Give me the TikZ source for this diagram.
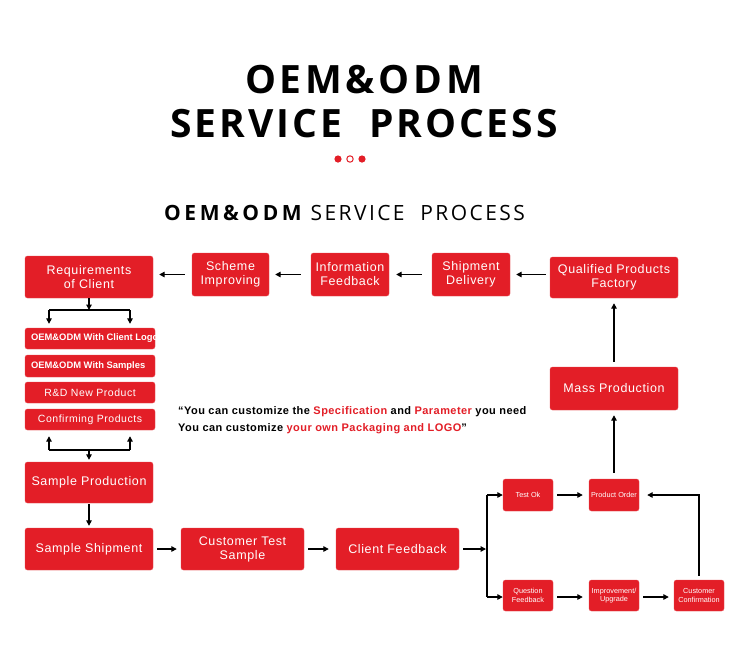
\documentclass[tikz,border=0pt]{standalone}
\usepackage{fontspec}
\setmainfont{Liberation Sans}
\newfontfamily\titlefont[LetterSpace=9.5]{Open Sans}
\newfontfamily\titlefontb[LetterSpace=7.5]{Open Sans}
\newfontfamily\subfontb[LetterSpace=17]{Open Sans}
\newfontfamily\subfont[LetterSpace=11.5]{Open Sans}
\newfontfamily\boxfont[LetterSpace=5]{Liberation Sans}
\newfontfamily\quotefont[LetterSpace=4]{Liberation Sans}
\usetikzlibrary{arrows.meta}
\definecolor{brandred}{RGB}{227,30,39}
\tikzset{
  box/.style={fill=brandred, draw=brandred!80!white, line width=0.4pt, rounded corners=2.5pt, text=white, align=center, inner sep=0pt},
  bigtext/.style={font=\boxfont\fontsize{12.5}{14}\selectfont},
  smalltext/.style={font=\fontsize{7.3}{8.5}\selectfont},
  listtext/.style={font=\boxfont\fontsize{10.5}{12}\selectfont},
  boldlist/.style={anchor=west, text=white, inner sep=0pt, font=\bfseries\fontsize{9.4}{11}\selectfont},
  conn/.style={draw=black, line width=1.3pt, -{Triangle[length=5.5pt,width=5.5pt]}},
  plain/.style={draw=black, line width=1.3pt},
}
\begin{document}
\begin{tikzpicture}[x=1pt,y=-1pt]
\useasboundingbox (0,0) rectangle (750,657);
\fill[white] (0,0) rectangle (750,657);
% titles
\node[anchor=base, inner sep=0pt, font=\titlefont\bfseries\fontsize{39}{44}\selectfont] (t1) at (364,93) {OEM\&ODM};
\node[anchor=base, inner sep=0pt, font=\titlefontb\bfseries\fontsize{39}{44}\selectfont] (t2) at (364,137) {SERVICE\hspace{27pt}PROCESS};
\fill[brandred] (338,159) circle (3.6);
\draw[brandred, line width=1pt] (350,159) circle (3.2);
\fill[brandred] (362,159) circle (3.6);
\node[anchor=base west, inner sep=0pt, font=\subfont\fontsize{21}{24}\selectfont] (sub) at (164,220) {{\subfontb\bfseries OEM\&ODM}\hspace{9pt}SERVICE\ \ PROCESS};
% top row
\node[box, bigtext, minimum width=128pt, minimum height=42pt] (req) at (89,277) {Requirements\\of Client};
\node[box, bigtext, minimum width=77pt, minimum height=43pt] (sch) at (230.5,274.5) {Scheme\\Improving};
\node[box, bigtext, minimum width=78pt, minimum height=43pt] (inf) at (350,274.5) {Information\\Feedback};
\node[box, bigtext, minimum width=78pt, minimum height=43pt] (shp) at (471,274.5) {Shipment\\Delivery};
\node[box, bigtext, minimum width=128pt, minimum height=41pt] (qual) at (614,277.5) {Qualified Products\\Factory};
\node[box, bigtext, minimum width=128pt, minimum height=43pt] (mass) at (614,388.5) {Mass Production};
% list boxes
\node[box, minimum width=130pt, minimum height=21pt] (l1) at (90,338.5) {};
\node[box, minimum width=130pt, minimum height=22pt] (l2) at (90,366) {};
\begin{scope}
\clip (l1.south west) rectangle (l1.north east);
\node[boldlist] (l1t) at ([xshift=6pt]l1.west) {OEM\&ODM With Client Logo};
\end{scope}
\begin{scope}
\clip (l2.south west) rectangle (l2.north east);
\node[boldlist] (l2t) at ([xshift=6pt]l2.west) {OEM\&ODM With Samples};
\end{scope}
\node[box, listtext, minimum width=130pt, minimum height=21pt] (l3) at (90,392.5) {R\&D New Product};
\node[box, listtext, minimum width=130pt, minimum height=21pt] (l4) at (90,419.5) {Confirming Products};
% left column
\node[box, bigtext, minimum width=128pt, minimum height=41pt] (sprod) at (89,482.5) {Sample Production};
\node[box, bigtext, minimum width=128pt, minimum height=42pt] (sship) at (89,549) {Sample Shipment};
\node[box, bigtext, minimum width=123pt, minimum height=42pt] (ctest) at (242.5,549) {Customer Test\\Sample};
\node[box, bigtext, minimum width=123pt, minimum height=42pt] (cfb) at (397.5,549) {Client Feedback};
% right small boxes
\node[box, smalltext, minimum width=50pt, minimum height=32pt] (tok) at (528,495) {Test Ok};
\node[box, smalltext, minimum width=50pt, minimum height=32pt] (pord) at (614,495) {Product Order};
\node[box, smalltext, minimum width=50pt, minimum height=31pt] (qfb) at (528,595.5) {Question\\Feedback};
\node[box, smalltext, minimum width=50pt, minimum height=31pt] (impr) at (614,595.5) {Improvement/\\Upgrade};
\node[box, smalltext, minimum width=50pt, minimum height=31pt] (cconf) at (699,595.5) {Customer\\Confirmation};
% quote
\node[anchor=base west, inner sep=0pt, font=\quotefont\bfseries\fontsize{11}{12}\selectfont] (q1) at (178,414) {“You can customize the \textcolor{brandred}{Specification} and \textcolor{brandred}{Parameter} you need};
\node[anchor=base west, inner sep=0pt, font=\quotefont\bfseries\fontsize{11}{12}\selectfont] (q2) at (178,431) {You can customize \textcolor{brandred}{your own Packaging and LOGO}”};
% connectors top row
\draw[conn, shorten <=7pt, shorten >=6pt] (sch.west) -- (req.east |- sch.west);
\draw[conn, shorten <=10pt, shorten >=6pt] (inf.west) -- (sch.east);
\draw[conn, shorten <=10pt, shorten >=7pt] (shp.west) -- (inf.east);
\draw[conn, shorten <=4pt, shorten >=6pt] (qual.west |- shp.east) -- (shp.east);
\draw[conn, shorten <=5pt, shorten >=5pt] (mass.north) -- (qual.south);
\draw[conn, shorten <=6pt, shorten >=5pt] (pord.north) -- (mass.south);
% requirements split
\coordinate (sp) at (89,310);
\coordinate (spl) at (49,310);
\coordinate (spr) at (130,310);
\draw[conn] (req.south) -- (sp);
\draw[plain] (spl) -- (spr);
\draw[conn, shorten >=4pt] (spl) -- (spl |- l1.north);
\draw[conn, shorten >=4pt] (spr) -- (spr |- l1.north);
% merge to sample production
\coordinate (mg) at (89,450);
\coordinate (mgl) at (49,450);
\coordinate (mgr) at (130,450);
\draw[plain] (mgl) -- (mgr);
\draw[conn, shorten >=6pt] (mgl) -- (mgl |- l4.south);
\draw[conn, shorten >=6pt] (mgr) -- (mgr |- l4.south);
\draw[conn, shorten >=2pt] (mg) -- (sprod.north);
\draw[conn, shorten <=1pt, shorten >=2pt] (sprod.south) -- (sship.north);
% bottom row
\draw[conn, shorten <=4pt, shorten >=4pt] (sship.east) -- (ctest.west);
\draw[conn, shorten <=4pt, shorten >=7pt] (ctest.east) -- (cfb.west);
\coordinate (vj) at (487,549);
\coordinate (vt) at (487,495);
\coordinate (vb) at (487,597);
\draw[conn, shorten <=4pt, shorten >=1pt] (cfb.east) -- (vj);
\draw[plain] (vt) -- (vb);
\draw[conn] (vt) -- (tok.west);
\draw[conn] (vb) -- (qfb.west |- vb);
\draw[conn, shorten <=4pt, shorten >=6pt] (tok.east) -- (pord.west);
\draw[conn, shorten <=4pt, shorten >=6pt] (qfb.east |- vb) -- (impr.west |- vb);
\draw[conn, shorten <=4pt, shorten >=5pt] (impr.east |- vb) -- (cconf.west |- vb);
\coordinate (cr) at (699,495);
\draw[conn, shorten <=4pt, shorten >=8pt] (cconf.north) -- (cr) -- (pord.east);
\end{tikzpicture}
\end{document}
